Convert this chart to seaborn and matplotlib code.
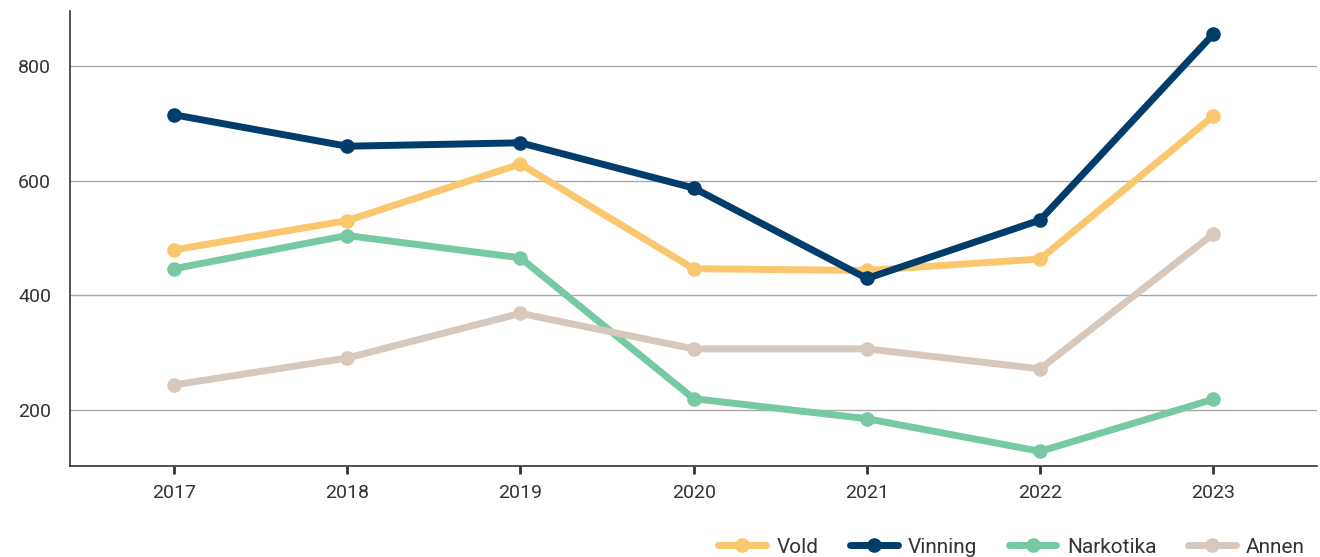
import pandas as pd
import matplotlib.pyplot as plt
import seaborn as sns

# data
years = [2017, 2018, 2019, 2020, 2021, 2022, 2023]
vold = [479, 530, 629, 446, 443, 463, 713]
vinning = [715, 660, 666, 587, 429, 531, 856]
narkotika = [446, 504, 465, 219, 184, 127, 218]
annen = [243, 290, 368, 306, 306, 271, 507]

series_names = ["Vold", "Vinning", "Narkotika", "Annen"]
colors = ["#FAC76E", "#003D6A", "#77C9A4", "#D6C8BD"]

df = pd.DataFrame({
    "year": years * 4,
    "value": vold + vinning + narkotika + annen,
    "kategori": sum([[n] * len(years) for n in series_names], []),
})

sns.set_style("white")
plt.rcParams["font.family"] = ["Roboto", "DejaVu Sans"]

fig = plt.figure(figsize=(13.2, 5.57), dpi=100)
ax = fig.add_axes([0.053, 0.163, 0.945, 0.817])

ax.grid(axis="y", color="#a8a8a8", linewidth=1.0)
ax.set_axisbelow(True)

sns.lineplot(
    data=df, x="year", y="value", hue="kategori",
    hue_order=series_names, palette=colors,
    marker="o", markersize=10.5, markeredgewidth=0,
    linewidth=5, solid_capstyle="round", ax=ax,
)

ax.set_xlim(2016.4, 2023.6)
ax.set_ylim(101, 896)
ax.set_xticks(years)
ax.set_yticks([200, 400, 600, 800])
ax.set_xlabel("")
ax.set_ylabel("")

for s in ["top", "right"]:
    ax.spines[s].set_visible(False)
for s in ["left", "bottom"]:
    ax.spines[s].set_color("#333333")
    ax.spines[s].set_linewidth(1.2)

ax.tick_params(axis="x", bottom=True, length=6, width=2, color="#333333",
               labelsize=14, labelcolor="#333333", pad=7)
ax.tick_params(axis="y", left=False, labelsize=14, labelcolor="#333333", pad=10)

handles, labels = ax.get_legend_handles_labels()
ax.legend(
    handles, labels, loc="lower right", bbox_to_anchor=(1.005, -0.24),
    ncol=4, frameon=False, fontsize=15, handlelength=2.3,
    columnspacing=1.5, handletextpad=0.5, labelcolor="#333333",
)

fig.savefig("out.png", dpi=100)
